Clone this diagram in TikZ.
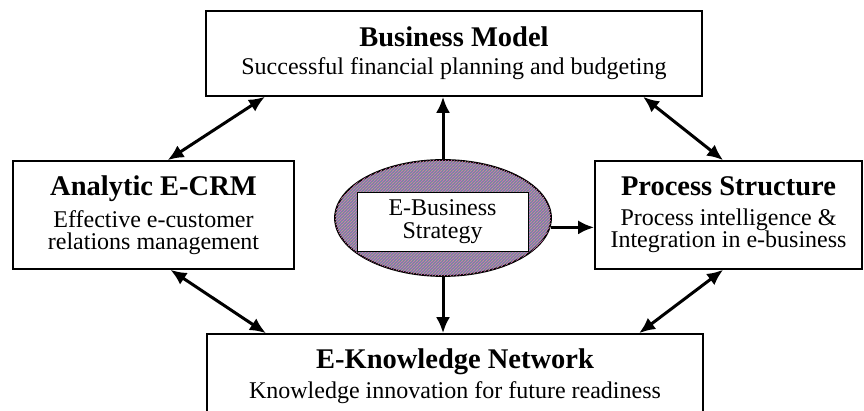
\documentclass[tikz,border=0pt]{standalone}
\usepackage{fontspec}
\setmainfont{Liberation Serif}
\usetikzlibrary{arrows.meta, shapes.geometric, patterns, calc}

\definecolor{hatchbase}{RGB}{112,138,162}
\definecolor{hatchpink}{RGB}{226,104,186}
\definecolor{hatchlime}{RGB}{196,206,96}

\tikzset{
  blockbox/.style={draw, line width=1.6pt, fill=white, align=center, inner sep=0pt,
    font=\fontsize{24}{22}\selectfont},
  link/.style={line width=3pt, {Latex[length=16pt,width=14pt]}-{Latex[length=16pt,width=14pt]}},
  onelink/.style={line width=3pt, -{Latex[length=16pt,width=14pt]}}
}
\newcommand{\blocktitle}[1]{{\fontsize{28.5}{30}\selectfont\bfseries #1}}

\begin{document}
\begin{tikzpicture}[x=1pt,y=1pt]
\useasboundingbox (0,0) rectangle (864,411);
\clip (0,0) rectangle (864,411);
\node[blockbox, minimum width=496, minimum height=85] (bm) at (454,357.5)
  {\blocktitle{Business Model}\\[6pt] Successful financial planning and budgeting};
\node[blockbox, minimum width=281, minimum height=108] (crm) at (153.5,196)
  {\blocktitle{Analytic E-CRM}\\[8pt] Effective e-customer\\ relations management};
\node[blockbox, minimum width=267, minimum height=108] (ps) at (728.5,196)
  {\blocktitle{Process Structure}\\[8pt] Process intelligence \&\\ Integration in e-business};
\node[blockbox, minimum width=496, minimum height=85] (kn) at (455,34.5)
  {\blocktitle{E-Knowledge Network}\\[6pt] Knowledge innovation for future readiness};
% centre ellipse
\node[ellipse, draw, line width=1.8pt, fill=hatchbase, minimum width=216, minimum height=116,
  postaction={pattern=north east lines, pattern color=hatchpink},
  postaction={pattern=dots, pattern color=hatchlime}] (ebs) at (443,193) {};
\node[draw, line width=0.8pt, fill=white, minimum width=171, minimum height=59, inner sep=0pt,
  align=center, font=\fontsize{24}{23}\selectfont] (ebsr) at (442.5,189.5) {E-Business\\ Strategy};
\draw[onelink] (ebs.north) -- (ebs.north |- bm.south);
\draw[onelink] (ebs.south) -- (ebs.south |- kn.north);
\draw[onelink] (ebs.-5) -- (ebs.-5 -| ps.west);
\draw[link] ($(crm.north west)!0.55!(crm.north east)$) -- ($(bm.south west)!0.12!(bm.south east)$);
\draw[link] ($(bm.south west)!0.88!(bm.south east)$) -- ($(ps.north west)!0.48!(ps.north east)$);
\draw[link] ($(crm.south west)!0.56!(crm.south east)$) -- ($(kn.north west)!0.12!(kn.north east)$);
\draw[link] ($(ps.south west)!0.48!(ps.south east)$) -- ($(kn.north west)!0.87!(kn.north east)$);
\end{tikzpicture}
\end{document}
